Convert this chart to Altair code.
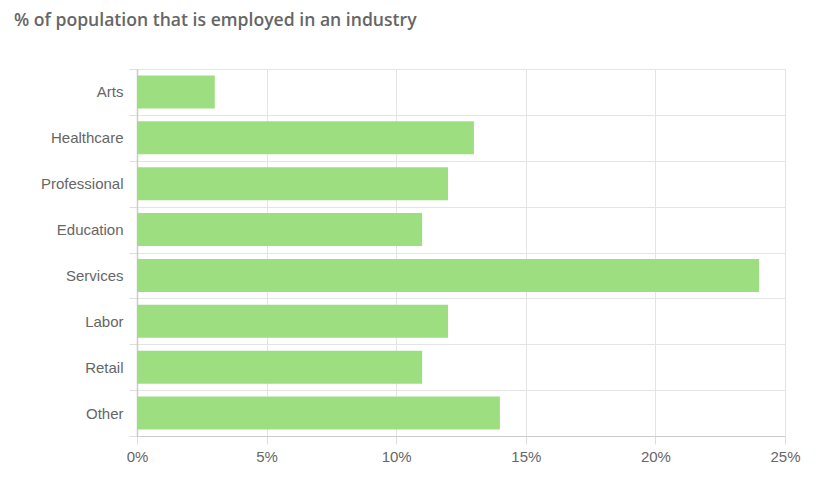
import altair as alt
import pandas as pd

industries = ["Arts", "Healthcare", "Professional", "Education", "Services", "Labor", "Retail", "Other"]
percent = [3, 13, 12, 11, 24, 12, 11, 14]
x_ticks = [0, 5, 10, 15, 20, 25]

df = pd.DataFrame({"industry": industries, "pct": percent})

chart = alt.Chart(df).mark_bar(color="#9ddf80", height=alt.RelativeBandSize(0.72)).encode(
    x=alt.X("pct:Q",
            scale=alt.Scale(domain=[0, 25], nice=False),
            axis=alt.Axis(values=x_ticks, labelExpr="datum.value + '%'", title=None,
                          grid=True, gridColor="#e4e4e4", domainColor="#cccccc",
                          tickColor="#dddddd", tickSize=8, labelPadding=5, labelFlush=False,
                          labelFont="Liberation Sans", labelFontSize=15, labelColor="#666666")),
    y=alt.Y("industry:N", sort=industries,
            scale=alt.Scale(paddingInner=0, paddingOuter=0),
            axis=alt.Axis(title=None, tickBand="extent", grid=True, gridColor="#e4e4e4",
                          domainColor="#cccccc", domainWidth=1.5, tickColor="#dddddd", tickSize=8,
                          labelPadding=6, labelFont="Liberation Sans", labelFontSize=15,
                          labelColor="#666666")),
).properties(
    width=648, height=367,
    title=alt.TitleParams("% of population that is employed in an industry", anchor="start",
                          frame="group",
                          font="Open Sans", fontSize=17.6, fontWeight=600, color="#666666",
                          dx=-123, offset=18, baseline="alphabetic"),
    autosize=alt.AutoSizeParams(type="none"),
    padding={"left": 129, "top": 61, "right": 20, "bottom": 40},
).configure_view(stroke="#e4e4e4")

chart.save("out.html", embed_options={"renderer": "svg", "actions": False})
